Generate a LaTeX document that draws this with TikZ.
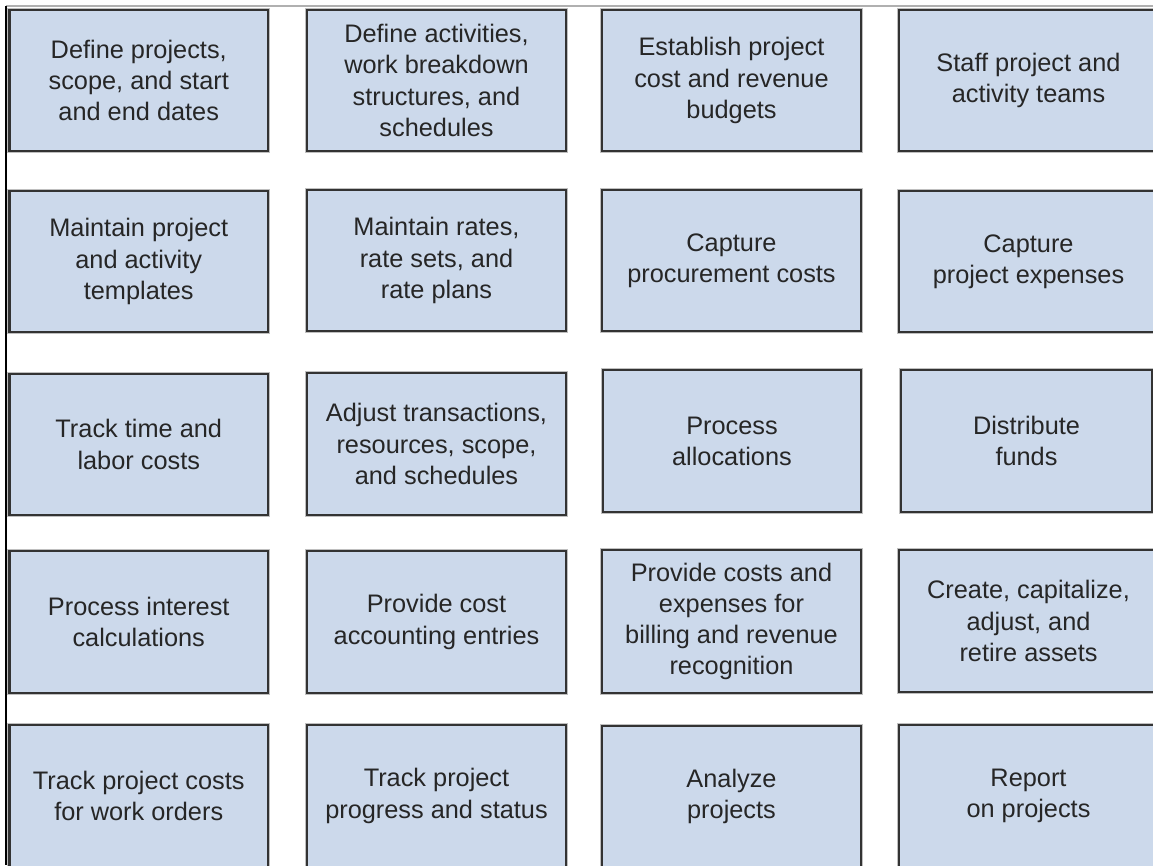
\documentclass[tikz,border=0pt]{standalone}
\usepackage{fontspec}
\setmainfont{Liberation Sans}
\definecolor{boxfill}{HTML}{CCD9EB}
\definecolor{boxline}{HTML}{333333}
\definecolor{txt}{HTML}{262626}
\definecolor{topline}{HTML}{B0B0B0}
\newcommand\taskbox[6]{\node[task, minimum width={(#4-#2)*0.75pt}, minimum height={(#5-#3)*0.75pt}] (#1) at ({(#2+#4)/2},{(#3+#5)/2}) {#6};}
\begin{document}
\begin{tikzpicture}[x=0.75pt,y=-0.75pt,
  task/.style={draw=boxline, line width=2pt, fill=boxfill, text=txt, align=center,
    font=\fontsize{19}{23.4}\selectfont, inner sep=0pt,
    preaction={draw=black!25, line width=3.4pt}},
  frameline/.style={line width=1.1pt, draw=black},
  topframe/.style={line width=0.9pt, draw=topline}]
\useasboundingbox (0,0) rectangle (1153,865);
\begin{scope}
\clip (0,0) rectangle (1153,865);
% row 1
\taskbox{b11}{9.5}{10}{268}{151}{Define projects,\\scope, and start\\and end dates}
\taskbox{b12}{307}{10}{566}{151}{Define activities,\\work breakdown\\structures, and\\schedules}
\taskbox{b13}{602}{10}{861}{151}{Establish project\\cost and revenue\\budgets}
\taskbox{b14}{899}{10}{1158}{151}{Staff project and\\activity teams}
% row 2
\taskbox{b21}{9.5}{191}{268}{332}{Maintain project\\and activity\\templates}
\taskbox{b22}{307}{190}{566}{331}{Maintain rates,\\rate sets, and\\rate plans}
\taskbox{b23}{602}{190}{861}{331}{Capture\\procurement costs}
\taskbox{b24}{899}{191}{1158}{332}{Capture\\project expenses}
% row 3
\taskbox{b31}{9.5}{374}{268}{515}{Track time and\\labor costs}
\taskbox{b32}{307}{373}{566}{515}{Adjust transactions,\\resources, scope,\\and schedules}
\taskbox{b33}{603}{370}{861}{512}{Process\\allocations}
\taskbox{b34}{901}{370}{1152}{512}{Distribute\\funds}
% row 4
\taskbox{b41}{9.5}{551}{268}{693}{Process interest\\calculations}
\taskbox{b42}{307}{551}{566}{693}{Provide cost\\accounting entries}
\taskbox{b43}{602}{550}{861}{693}{Provide costs and\\expenses for\\billing and revenue\\recognition}
\taskbox{b44}{899}{550}{1158}{692}{Create, capitalize,\\adjust, and\\retire assets}
% row 5
\taskbox{b51}{9.5}{725}{268}{867}{Track project costs\\for work orders}
\taskbox{b52}{307}{725}{566}{867}{Track project\\progress and status}
\taskbox{b53}{602}{726}{861}{867}{Analyze\\projects}
\taskbox{b54}{899}{725}{1158}{867}{Report\\on projects}
% frame lines on top
\coordinate (tl) at (6,6);
\coordinate (tr) at (1153,6);
\coordinate (bl) at (6,865);
\draw[topframe] (tl) -- (tr);
\draw[frameline] (tl) -- (bl);
\end{scope}
\end{tikzpicture}
\end{document}
